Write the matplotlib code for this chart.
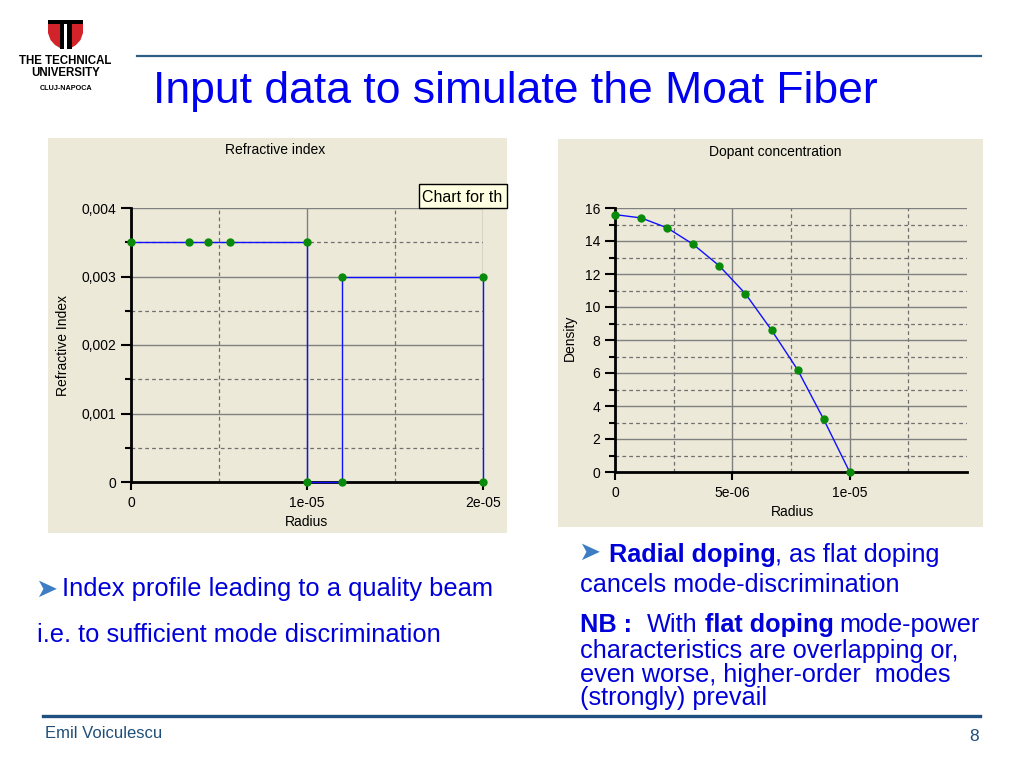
import numpy as np
import matplotlib
matplotlib.use("Agg")
import matplotlib.pyplot as plt
from matplotlib.patches import Rectangle, Polygon
from matplotlib.lines import Line2D

# refractive index profile of the moat fiber
ri_radius = [0, 3.3e-6, 4.4e-6, 5.6e-6, 1e-5, 1e-5, 1.2e-5, 1.2e-5, 2e-5, 2e-5]
ri_index = [0.0035, 0.0035, 0.0035, 0.0035, 0.0035, 0, 0, 0.003, 0.003, 0]
ri_xticks = [0, 1e-5, 2e-5]
ri_xlabels = ["0", "1e-05", "2e-05"]
ri_yticks = [0, 0.001, 0.002, 0.003, 0.004]
ri_ylabels = ["0", "0,001", "0,002", "0,003", "0,004"]

# dopant concentration profile
dc_radius = [0, 1.11e-6, 2.22e-6, 3.33e-6, 4.44e-6, 5.56e-6, 6.67e-6, 7.78e-6, 8.89e-6, 1e-5]
dc_density = [15.6, 15.4, 14.8, 13.8, 12.5, 10.8, 8.6, 6.2, 3.2, 0]
dc_xticks = [0, 5e-6, 1e-5]
dc_xlabels = ["0", "5e-06", "1e-05"]
dc_yticks = [0, 2, 4, 6, 8, 10, 12, 14, 16]

W, H = 1024, 768
PANEL = "#ECE9D8"
BLUE = "#0000D8"
FOOT = "#1F4E79"

plt.rcParams["font.family"] = ["Liberation Sans", "DejaVu Sans"]

fig = plt.figure(figsize=(W / 100, H / 100), dpi=100)
fig.patch.set_facecolor("white")


def fx(x):
    return x / W


def fy(y):
    return 1 - y / H


def put(x, y, s, **kw):
    return fig.text(fx(x), fy(y), s, **kw)


def rect(x0, y0, x1, y1, **kw):
    r = Rectangle((fx(x0), fy(y1)), (x1 - x0) / W, (y1 - y0) / H,
                  transform=fig.transFigure, **kw)
    fig.add_artist(r)
    return r


def hline(x0, x1, y, color, lw):
    fig.add_artist(Line2D([fx(x0), fx(x1)], [fy(y), fy(y)], color=color, lw=lw,
                          transform=fig.transFigure))


def chart(box, xlim, ylim, xticks, xlabels, xminor, yticks, ylabels, yminor):
    x0, y0, x1, y1 = box
    ax = fig.add_axes([fx(x0), fy(y1), (x1 - x0) / W, (y1 - y0) / H])
    ax.set_facecolor("none")
    ax.set_xlim(*xlim)
    ax.set_ylim(*ylim)
    ax.set_xticks(xticks)
    ax.set_xticklabels(xlabels)
    ax.set_xticks(xminor, minor=True)
    ax.set_yticks(yticks)
    ax.set_yticklabels(ylabels)
    ax.set_yticks(yminor, minor=True)
    for s in ("top", "right"):
        ax.spines[s].set_visible(False)
    for s in ("left", "bottom"):
        ax.spines[s].set_linewidth(2)
        ax.spines[s].set_zorder(4)
    ax.grid(True, which="major", color="#808080", lw=1.0, ls="-")
    ax.grid(True, which="minor", color="#707070", lw=0.9, ls=(0, (3, 2.5)))
    ax.tick_params(axis="y", which="major", length=7, width=1.5, pad=3.5, labelsize=10)
    ax.tick_params(axis="y", which="minor", length=4.5, width=1.5)
    ax.tick_params(axis="x", which="major", length=6, width=1.5, pad=4, labelsize=10)
    ax.tick_params(axis="x", which="minor", length=0)
    ax.set_axisbelow(True)
    return ax


# ---- header
hline(137, 981, 56, "#2D5F85", 1.6)
put(153, 103, "Input data to simulate the Moat Fiber", fontsize=32, color="#0000F0",
    va="baseline")

# logo
rect(48, 20, 83, 24, facecolor="black", edgecolor="none")
fig.add_artist(Polygon([(fx(x), fy(y)) for x, y in
                        [(48, 24), (60, 24), (60, 48), (55, 45), (50.5, 40), (48, 33)]],
                       closed=True, transform=fig.transFigure, facecolor="#D2232A",
                       edgecolor="none"))
fig.add_artist(Polygon([(fx(x), fy(y)) for x, y in
                        [(83, 24), (71, 24), (71, 48), (76, 45), (80.5, 40), (83, 33)]],
                       closed=True, transform=fig.transFigure, facecolor="#D2232A",
                       edgecolor="none"))
rect(59.5, 23, 64, 49, facecolor="black", edgecolor="none")
rect(67, 23, 71.5, 49, facecolor="black", edgecolor="none")
put(65.5, 61, "THE TECHNICAL", fontsize=8.3, fontweight="bold", ha="center", va="center")
put(65.5, 73, "UNIVERSITY", fontsize=8.3, fontweight="bold", ha="center", va="center")
put(66, 88, "CLUJ-NAPOCA", fontsize=5.2, fontweight="bold", ha="center", va="center")

# ---- left chart: refractive index
rect(48, 138, 507, 533, facecolor=PANEL, edgecolor="none", zorder=-1)
ax1 = chart((131, 208, 483, 482), (0, 2e-5), (0, 0.004), ri_xticks, ri_xlabels,
            [5e-6, 1.5e-5], ri_yticks, ri_ylabels, [0.0005, 0.0015, 0.0025, 0.0035])
ax1.plot(ri_radius, ri_index, color="#1010FF", lw=1.0, marker="o", ms=5,
         mfc="#0A8A0A", mec="#0A8A0A", clip_on=False, zorder=5)
put(275, 150, "Refractive index", fontsize=10, ha="center", va="center")
put(307, 522, "Radius", fontsize=10, ha="center", va="center")
put(63, 345, "Refractive Index", fontsize=10, ha="center", va="center", rotation=90)

tip = rect(419, 184, 507, 208, facecolor="#FFFFE1", edgecolor="black", lw=1, zorder=6)
t = put(422, 197, "Chart for th", fontsize=11.5, va="center", zorder=7)
t.set_clip_path(tip)

# ---- right chart: dopant concentration
rect(558, 139, 983, 527, facecolor=PANEL, edgecolor="none", zorder=-1)
ax2 = chart((615, 208, 967, 472), (0, 1.5e-5), (0, 16), dc_xticks, dc_xlabels,
            [2.5e-6, 7.5e-6, 1.25e-5], dc_yticks, [str(v) for v in dc_yticks],
            [1, 3, 5, 7, 9, 11, 13, 15])
ax2.plot(dc_radius, dc_density, color="#1010FF", lw=1.0, marker="o", ms=5,
         mfc="#0A8A0A", mec="#0A8A0A", clip_on=False, zorder=5)
put(775, 152, "Dopant concentration", fontsize=10, ha="center", va="center")
put(792, 512, "Radius", fontsize=10, ha="center", va="center")
put(570, 338, "Density", fontsize=10, ha="center", va="center", rotation=90)

# ---- bullet text
ARROW = "#3C7DC4"
put(35, 590, "\u27a4", fontsize=19, color=ARROW, va="center", family="DejaVu Sans")
put(62, 596, "Index profile leading to a quality beam", fontsize=18.4, color=BLUE,
    va="baseline")
put(37, 642, "i.e. to sufficient mode discrimination", fontsize=18.4, color=BLUE,
    va="baseline")

put(578, 553, "\u27a4", fontsize=19, color=ARROW, va="center", family="DejaVu Sans")
put(609, 562, "Radial doping", fontsize=18.2, fontweight="bold", color=BLUE, va="baseline")
put(775, 562, ", as flat doping", fontsize=18.2, color=BLUE, va="baseline")
put(580, 592, "cancels mode-discrimination", fontsize=18.2, color=BLUE, va="baseline")
put(580, 632, "NB :", fontsize=18.2, fontweight="bold", color=BLUE, va="baseline")
put(647, 632, "With", fontsize=18.2, color=BLUE, va="baseline")
put(705, 632, "flat doping", fontsize=18.2, fontweight="bold", color=BLUE, va="baseline")
put(839, 632, "mode-power", fontsize=18.2, color=BLUE, va="baseline")
put(580, 658, "characteristics are overlapping or,", fontsize=18.2, color=BLUE,
    va="baseline")
put(580, 682, "even worse, higher-order  modes", fontsize=18.2, color=BLUE, va="baseline")
put(580, 705, "(strongly) prevail", fontsize=18.2, color=BLUE, va="baseline")

# ---- footer
hline(43, 980, 716, "#1F5080", 2.4)
put(45, 738, "Emil Voiculescu", fontsize=12, color=FOOT, va="baseline")
put(979, 741, "8", fontsize=12.5, color=FOOT, va="baseline", ha="right")

fig.savefig("out.png", dpi=100, facecolor="white")
